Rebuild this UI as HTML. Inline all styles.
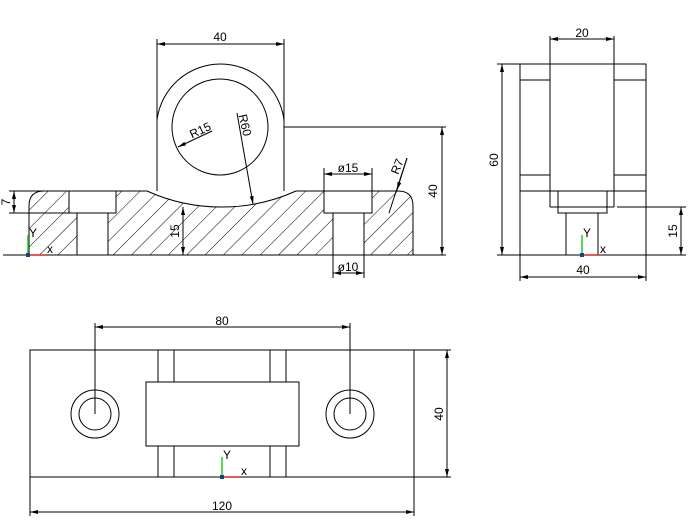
<!DOCTYPE html>
<html><head><style>
html,body{margin:0;padding:0;background:#fff;}
svg{display:block}
text{font-family:"Liberation Sans",sans-serif;font-size:12px;fill:#000}
</style></head><body>
<svg width="696" height="531" viewBox="0 0 696 531" xmlns="http://www.w3.org/2000/svg">
<defs>
<pattern id="h" patternUnits="userSpaceOnUse" width="13" height="13" patternTransform="rotate(45)">
<line x1="0" y1="0" x2="0" y2="13" stroke="#000" stroke-width="1"/>
</pattern>
<marker id="a" viewBox="0 0 8 4" refX="8" refY="2" markerWidth="8" markerHeight="4" orient="auto-start-reverse" markerUnits="userSpaceOnUse">
<path d="M0,0 L8,2 L0,4z" fill="#000"/></marker>
</defs>
<g fill="none" stroke="#000" stroke-width="1">
<path fill="url(#h)" d="M29,255 L29,206 Q29,191 44,191 L69,191 L69,213 L77,213 L77,255Z"/>
<path fill="url(#h)" d="M108,255 L108,213 L116,213 L116,191 L147,191 A181,181 0 0 0 296,191 L324,191 L324,213 L333,213 L333,255Z"/>
<path fill="url(#h)" d="M364,255 L364,213 L372,213 L372,191 L398,191 Q413,191 413,206 L413,255Z"/>
<rect x="69" y="191" width="47" height="22" fill="#fff"/>
<rect x="324" y="191" width="48" height="22" fill="#fff"/>
<line x1="3" y1="255" x2="446" y2="255"/>
<line x1="9" y1="191" x2="69" y2="191"/>
<line x1="9" y1="213" x2="69" y2="213"/>
<line x1="157" y1="39" x2="157" y2="191"/>
<line x1="284" y1="39" x2="284" y2="191"/>
<path d="M157,120 A64,64 0 0 1 284,120"/>
<circle cx="220" cy="127" r="48"/>
<line x1="284" y1="127" x2="446" y2="127"/>
<line x1="157" y1="44" x2="284" y2="44" marker-start="url(#a)" marker-end="url(#a)"/>
<line x1="442" y1="127" x2="442" y2="255" marker-start="url(#a)" marker-end="url(#a)"/>
<line x1="14" y1="191" x2="14" y2="213" marker-start="url(#a)" marker-end="url(#a)"/>
<line x1="183" y1="207" x2="183" y2="255" marker-start="url(#a)" marker-end="url(#a)"/>
<line x1="324" y1="168" x2="324" y2="191"/><line x1="372" y1="168" x2="372" y2="191"/>
<line x1="324" y1="174" x2="372" y2="174" marker-start="url(#a)" marker-end="url(#a)"/>
<line x1="333" y1="255" x2="333" y2="278"/><line x1="364" y1="255" x2="364" y2="278"/>
<line x1="333" y1="273" x2="364" y2="273" marker-start="url(#a)" marker-end="url(#a)"/>
<line x1="212" y1="131" x2="178" y2="147" marker-end="url(#a)"/>
<line x1="237" y1="113" x2="253" y2="204" marker-end="url(#a)"/>
<line x1="407" y1="158" x2="389" y2="213"/>
<line x1="407" y1="158" x2="397" y2="190" marker-end="url(#a)"/>
<rect x="520" y="64" width="126" height="191"/>
<line x1="520" y1="80" x2="550" y2="80"/><line x1="614" y1="80" x2="646" y2="80"/>
<line x1="520" y1="175" x2="550" y2="175"/><line x1="614" y1="175" x2="646" y2="175"/>
<line x1="520" y1="191" x2="646" y2="191"/>
<line x1="550" y1="36" x2="550" y2="207"/><line x1="614" y1="36" x2="614" y2="207"/>
<line x1="550" y1="207" x2="614" y2="207"/>
<polyline points="558,191 558,213 607,213 607,191"/>
<line x1="566" y1="213" x2="566" y2="255"/><line x1="598" y1="213" x2="598" y2="255"/>
<line x1="550" y1="39" x2="614" y2="39" marker-start="url(#a)" marker-end="url(#a)"/>
<line x1="497" y1="64" x2="520" y2="64"/><line x1="497" y1="255" x2="520" y2="255"/>
<line x1="502" y1="64" x2="502" y2="255" marker-start="url(#a)" marker-end="url(#a)"/>
<line x1="617" y1="207" x2="686" y2="207"/><line x1="646" y1="255" x2="686" y2="255"/>
<line x1="681" y1="207" x2="681" y2="255" marker-start="url(#a)" marker-end="url(#a)"/>
<line x1="520" y1="255" x2="520" y2="281"/><line x1="646" y1="255" x2="646" y2="281"/>
<line x1="520" y1="277" x2="646" y2="277" marker-start="url(#a)" marker-end="url(#a)"/>
<rect x="30" y="350" width="384" height="127"/>
<line x1="158" y1="350" x2="158" y2="382"/><line x1="174" y1="350" x2="174" y2="382"/>
<line x1="270" y1="350" x2="270" y2="382"/><line x1="286" y1="350" x2="286" y2="382"/>
<line x1="158" y1="446" x2="158" y2="477"/><line x1="174" y1="446" x2="174" y2="477"/>
<line x1="270" y1="446" x2="270" y2="477"/><line x1="286" y1="446" x2="286" y2="477"/>
<rect x="146" y="382" width="153" height="64"/>
<circle cx="95" cy="414" r="24"/><circle cx="95" cy="414" r="16"/>
<circle cx="350" cy="414" r="24"/><circle cx="350" cy="414" r="16"/>
<line x1="95" y1="323" x2="95" y2="414"/><line x1="350" y1="323" x2="350" y2="414"/>
<line x1="95" y1="327" x2="350" y2="327" marker-start="url(#a)" marker-end="url(#a)"/>
<line x1="414" y1="350" x2="451" y2="350"/><line x1="414" y1="477" x2="451" y2="477"/>
<line x1="447" y1="350" x2="447" y2="477" marker-start="url(#a)" marker-end="url(#a)"/>
<line x1="30" y1="477" x2="30" y2="516"/><line x1="414" y1="477" x2="414" y2="516"/>
<line x1="30" y1="512" x2="414" y2="512" marker-start="url(#a)" marker-end="url(#a)"/>
</g>
<g stroke-width="1.5">
<line x1="28" y1="255" x2="28" y2="235" stroke="#2c2"/><line x1="28" y1="255" x2="46" y2="255" stroke="#d22"/><rect x="26" y="253" width="4" height="4" fill="#148"/>
<line x1="582" y1="255" x2="582" y2="235" stroke="#2c2"/><line x1="582" y1="255" x2="600" y2="255" stroke="#d22"/><rect x="580" y="253" width="4" height="4" fill="#148"/>
<line x1="222" y1="477" x2="222" y2="457" stroke="#2c2"/><line x1="222" y1="477" x2="240" y2="477" stroke="#d22"/><rect x="220" y="475" width="4" height="4" fill="#148"/>
</g>
<g style="font-size:8px">
<text x="29" y="237" fill="#2c2">Y</text><text x="47" y="253" fill="#d22">x</text>
<text x="583" y="237" fill="#2c2">Y</text><text x="600" y="253" fill="#d22">x</text>
<text x="223" y="459" fill="#2c2">Y</text><text x="241" y="475" fill="#d22">x</text>
</g>
<text x="220" y="41" text-anchor="middle">40</text>
<text x="437" y="191" text-anchor="middle" transform="rotate(-90 437 191)">40</text>
<text x="10" y="202" text-anchor="middle" transform="rotate(-90 10 202)">7</text>
<text x="179" y="231" text-anchor="middle" transform="rotate(-90 179 231)">15</text>
<text x="348" y="172" text-anchor="middle">ø15</text>
<text x="348" y="271" text-anchor="middle">ø10</text>
<text x="202" y="134" text-anchor="middle" transform="rotate(-25 202 134)">R15</text>
<text x="241" y="126" text-anchor="middle" transform="rotate(77 241 126)">R60</text>
<text x="401" y="168" text-anchor="middle" transform="rotate(-68 401 168)">R7</text>
<text x="582" y="37" text-anchor="middle">20</text>
<text x="498" y="160" text-anchor="middle" transform="rotate(-90 498 160)">60</text>
<text x="677" y="231" text-anchor="middle" transform="rotate(-90 677 231)">15</text>
<text x="583" y="274" text-anchor="middle">40</text>
<text x="222" y="325" text-anchor="middle">80</text>
<text x="443" y="414" text-anchor="middle" transform="rotate(-90 443 414)">40</text>
<text x="222" y="510" text-anchor="middle">120</text>
</svg>
</body></html>
